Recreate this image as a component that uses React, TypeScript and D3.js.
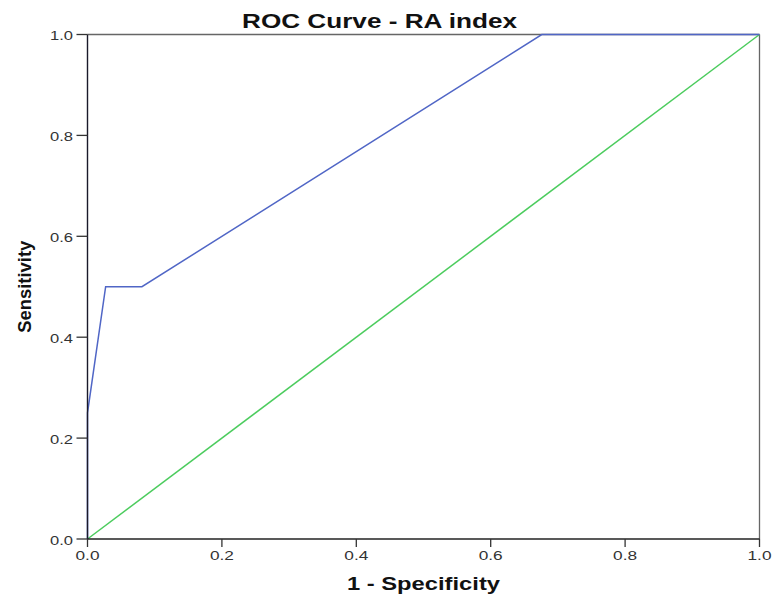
import React from "react";
import * as d3 from "d3";

const title = "ROC Curve - RA index";
const xLabel = "1 - Specificity";
const yLabel = "Sensitivity";
const ticks = [0, 0.2, 0.4, 0.6, 0.8, 1.0];

// ROC curve points (1 - specificity, sensitivity)
const rocX = [0, 0, 0.027, 0.081, 0.676, 1];
const rocY = [0, 0.25, 0.5, 0.5, 1, 1];

// reference line
const refX = [0, 1];
const refY = [0, 1];

const W = 772;
const H = 595;
const margin = { top: 34.5, right: 12.5, bottom: 56, left: 87.5 };

const App = () => {
  const x = d3.scaleLinear().domain([0, 1]).range([margin.left, W - margin.right]);
  const y = d3.scaleLinear().domain([0, 1]).range([H - margin.bottom, margin.top]);

  const rocPath = d3
    .line<number>()
    .x((d) => x(d))
    .y((_, i) => y(rocY[i]))(rocX);
  const refPath = d3
    .line<number>()
    .x((d) => x(d))
    .y((_, i) => y(refY[i]))(refX);

  const font = "Arial, 'Liberation Sans', sans-serif";

  return (
    <svg
      width={W}
      height={H}
      style={{ position: "absolute", left: 0, top: 0, background: "#fff" }}
    >
      <text
        x={379.5}
        y={28}
        textAnchor="middle"
        fontFamily={font}
        fontWeight="bold"
        fontSize={20}
        textLength={275}
        lengthAdjust="spacingAndGlyphs"
        fill="#111"
      >
        {title}
      </text>

      {/* frame */}
      <line x1={x(0)} x2={x(1)} y1={y(1)} y2={y(1)} stroke="#666" strokeWidth={1.3} />
      <line x1={x(1)} x2={x(1)} y1={y(1)} y2={y(0)} stroke="#666" strokeWidth={1.3} />

      <path d={refPath ?? ""} fill="none" stroke="#4ccc5e" strokeWidth={1.5} />
      <path d={rocPath ?? ""} fill="none" stroke="#5066c6" strokeWidth={1.5} />

      {/* axes */}
      <line x1={x(0)} x2={x(1)} y1={y(0)} y2={y(0)} stroke="#222" strokeWidth={1.4} />
      <line x1={x(0)} x2={x(0)} y1={y(1)} y2={y(0)} stroke="#1a1a2a" strokeWidth={1.4} />

      {ticks.map((t) => (
        <g key={"x" + t}>
          <line x1={x(t)} x2={x(t)} y1={y(0)} y2={y(0) + 8} stroke="#333" strokeWidth={1.3} />
          <text
            x={x(t)}
            y={y(0) + 20.5}
            textAnchor="middle"
            fontFamily={font}
            fontSize={13}
            textLength={24}
            lengthAdjust="spacingAndGlyphs"
            fill="#333"
          >
            {t.toFixed(1)}
          </text>
        </g>
      ))}
      {ticks.map((t) => (
        <g key={"y" + t}>
          <line x1={x(0) - 11} x2={x(0)} y1={y(t)} y2={y(t)} stroke="#333" strokeWidth={1.3} />
          <text
            x={x(0) - 14.5}
            y={y(t) + 5.5}
            textAnchor="end"
            fontFamily={font}
            fontSize={13}
            textLength={23}
            lengthAdjust="spacingAndGlyphs"
            fill="#333"
          >
            {t.toFixed(1)}
          </text>
        </g>
      ))}

      <text
        x={(x(0) + x(1)) / 2}
        y={589.5}
        textAnchor="middle"
        fontFamily={font}
        fontWeight="bold"
        fontSize={18}
        textLength={153}
        lengthAdjust="spacingAndGlyphs"
        fill="#111"
      >
        {xLabel}
      </text>
      <text
        transform={`translate(31,${(y(0) + y(1)) / 2}) rotate(-90)`}
        textAnchor="middle"
        fontFamily="'Liberation Sans Narrow', 'Arial Narrow', Arial, sans-serif"
        fontWeight="bold"
        fontSize={19}
        textLength={92}
        lengthAdjust="spacingAndGlyphs"
        fill="#111"
      >
        {yLabel}
      </text>
    </svg>
  );
};

export default App;
